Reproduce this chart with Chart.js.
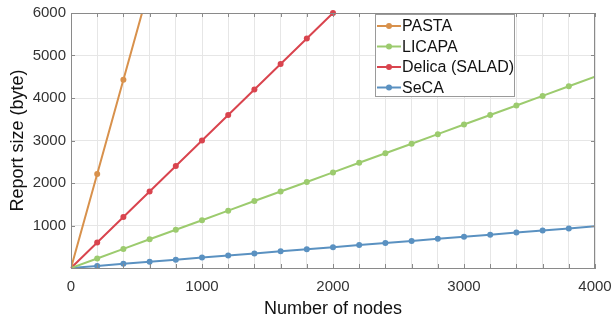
<!DOCTYPE html>
<html>
<head>
<meta charset="utf-8">
<script src="https://cdn.jsdelivr.net/npm/chart.js@4"></script>
<style>
  html, body { margin: 0; padding: 0; background: #fff; }
  #wrap { width: 613px; height: 320px; }
</style>
</head>
<body>
<div id="wrap"><canvas id="myChart" width="613" height="320"></canvas></div>
<script>
const nodes = [0, 200, 400, 600, 800, 1000, 1200, 1400, 1600, 1800, 2000,
  2200, 2400, 2600, 2800, 3000, 3200, 3400, 3600, 3800, 4000];

const pastaNodes = [0, 200, 400, 600];
const pasta = [0, 2210, 4430, 6640];

const licapa = [0, 225, 450, 675, 900, 1125, 1350, 1575, 1800, 2025, 2250,
  2475, 2700, 2925, 3150, 3375, 3600, 3825, 4050, 4275, 4500];

const delicaNodes = [0, 200, 400, 600, 800, 1000, 1200, 1400, 1600, 1800, 2000];
const delica = [0, 600, 1200, 1800, 2400, 3000, 3600, 4200, 4800, 5400, 6000];

const seca = [0, 49, 98, 147, 196, 245, 294, 343, 392, 441, 490,
  539, 588, 637, 686, 735, 784, 833, 882, 931, 980];

const xTickLabels = [0, 1000, 2000, 3000, 4000];
const yTickLabels = [1000, 2000, 3000, 4000, 5000, 6000];

const font = "'Liberation Sans', Arial, sans-serif";

function pairs(xs, ys) {
  return xs.map((x, i) => ({ x: x, y: ys[i] }));
}

// markers are not shown at the first and last node
function radius(ctx) {
  const p = ctx.raw;
  if (!p || p.x === 0 || p.x === 4000) return 0;
  return 3;
}

function series(label, color, data, clip) {
  return {
    label: label,
    data: data,
    borderColor: color,
    backgroundColor: color,
    borderWidth: 2,
    pointRadius: radius,
    pointHoverRadius: radius,
    pointBorderWidth: 0,
    tension: 0,
    clip: clip
  };
}

const boxPlugin = {
  id: 'box',
  afterDraw(chart) {
    const { ctx, chartArea: a, scales } = chart;
    ctx.save();
    ctx.strokeStyle = '#8a8a8a';
    ctx.lineWidth = 1;
    ctx.strokeRect(a.left + 0.5, a.top + 0.5, a.right - a.left - 1, a.bottom - a.top);
    // inner tick marks
    ctx.beginPath();
    scales.x.ticks.forEach((t, i) => {
      const px = Math.round(scales.x.getPixelForTick(i)) + 0.5;
      ctx.moveTo(px, a.bottom); ctx.lineTo(px, a.bottom - 4);
      ctx.moveTo(px, a.top); ctx.lineTo(px, a.top + 4);
    });
    scales.y.ticks.forEach((t, i) => {
      const py = Math.round(scales.y.getPixelForTick(i)) + 0.5;
      ctx.moveTo(a.left, py); ctx.lineTo(a.left + 4, py);
      ctx.moveTo(a.right, py); ctx.lineTo(a.right - 4, py);
    });
    ctx.stroke();

    // legend box
    const lx = 375, ly = 14, lw = 139, lh = 82;
    ctx.fillStyle = '#fff';
    ctx.fillRect(lx, ly, lw, lh);
    ctx.strokeStyle = '#9a9a9a';
    ctx.strokeRect(lx + 0.5, ly + 0.5, lw, lh);
    ctx.font = '16px ' + font;
    ctx.textBaseline = 'middle';
    chart.data.datasets.forEach((ds, i) => {
      const y = ly + 12 + i * 20.5;
      ctx.strokeStyle = ds.borderColor;
      ctx.lineWidth = 2;
      ctx.beginPath();
      ctx.moveTo(lx + 2, y); ctx.lineTo(lx + 26, y);
      ctx.stroke();
      ctx.fillStyle = ds.borderColor;
      ctx.beginPath();
      ctx.arc(lx + 14, y, 3, 0, Math.PI * 2);
      ctx.fill();
      ctx.fillStyle = '#111';
      ctx.fillText(ds.label, lx + 27, y + 1);
    });
    ctx.restore();
  }
};

const config = {
  type: 'line',
  data: {
    datasets: [
      series('PASTA', '#D8914C', pairs(pastaNodes, pasta), undefined),
      series('LICAPA', '#9CCB6E', pairs(nodes, licapa), undefined),
      series('Delica (SALAD)', '#D9444E', pairs(delicaNodes, delica), 5),
      series('SeCA', '#5A91C1', pairs(nodes, seca), undefined)
    ]
  },
  options: {
    responsive: false,
    animation: false,
    events: [],
    layout: { padding: { left: 0, right: 18, top: 13, bottom: 0 } },
    plugins: {
      legend: { display: false },
      tooltip: { enabled: false }
    },
    scales: {
      x: {
        type: 'linear',
        min: 0,
        max: 4000,
        afterFit(s) { s.height = 52; s.paddingLeft = 0; s.paddingRight = 0; },
        grid: { color: '#e6e6e6', drawTicks: false },
        border: { color: '#8a8a8a' },
        ticks: {
          stepSize: 200,
          autoSkip: false,
          maxRotation: 0,
          padding: 10,
          color: '#333',
          font: { family: font, size: 15 },
          callback: v => xTickLabels.includes(v) ? String(v) : ''
        },
        title: {
          display: true,
          text: 'Number of nodes',
          color: '#111',
          font: { family: font, size: 18 },
          padding: { top: 0, bottom: 0 }
        }
      },
      y: {
        min: 0,
        max: 6000,
        afterFit(s) { s.width = 71; s.paddingTop = 0; s.paddingBottom = 0; },
        grid: { color: '#e6e6e6', drawTicks: false },
        border: { color: '#8a8a8a' },
        ticks: {
          stepSize: 1000,
          padding: 5,
          color: '#333',
          font: { family: font, size: 15 },
          callback: v => yTickLabels.includes(v) ? String(v) : ''
        },
        title: {
          display: true,
          text: 'Report size (byte)',
          color: '#111',
          font: { family: font, size: 18 },
          padding: { top: 7, bottom: 0 }
        }
      }
    }
  },
  plugins: [boxPlugin]
};

const ctx = document.getElementById('myChart').getContext('2d');
new Chart(ctx, config);
</script>
</body>
</html>
